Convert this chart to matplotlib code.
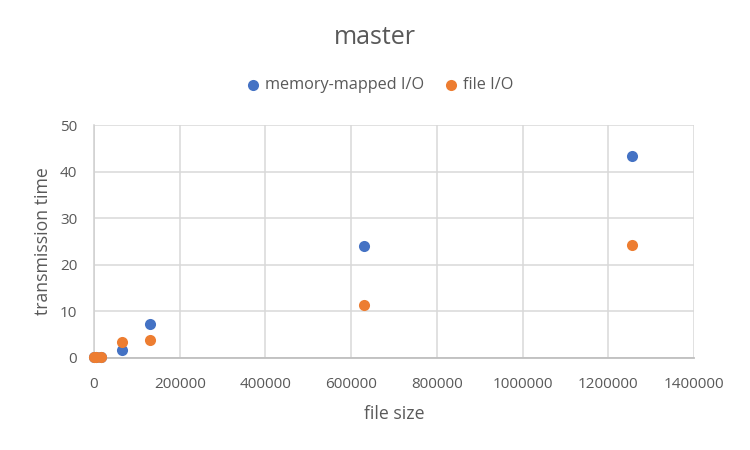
import matplotlib
matplotlib.use("Agg")
import matplotlib.pyplot as plt

plt.rcParams['font.family'] = ['Open Sans', 'DejaVu Sans']

file_size = [1024, 4096, 16384, 65536, 131072, 630000, 1255000]
mmap_time = [0.05, 0.08, 0.15, 1.6, 7.25, 24.1, 43.4]
fileio_time = [0.05, 0.1, 0.2, 3.45, 3.8, 11.4, 24.25]

xticks = [0, 200000, 400000, 600000, 800000, 1000000, 1200000, 1400000]
yticks = [0, 10, 20, 30, 40, 50]

text_color = '#595959'
fig = plt.figure(figsize=(7.5, 4.5), dpi=100)
ax = fig.add_axes([94/750, 1-357.7/450, (694-94)/750, (357.7-125.3)/450])

ax.scatter(file_size, mmap_time, s=64, color='#4472C4', label='memory-mapped I/O', zorder=3, linewidths=0, clip_on=False)
ax.scatter(file_size, fileio_time, s=64, color='#ED7D31', label='file I/O', zorder=3, linewidths=0, clip_on=False)

ax.set_xlim(0, 1400000)
ax.set_ylim(0, 50)
ax.set_xticks(xticks)
ax.set_xticklabels([str(v) for v in xticks])
ax.set_yticks(yticks)
ax.grid(True, color='#D9D9D9', linewidth=1.1)
ax.set_axisbelow(True)
for s in ['top', 'right']:
    ax.spines[s].set_visible(False)
ax.spines['left'].set_color('#D0D0D0')
ax.spines['left'].set_linewidth(1.1)
ax.spines['bottom'].set_color('#BFBFBF')
ax.spines['bottom'].set_linewidth(1.3)
ax.tick_params(axis='x', length=0, colors=text_color, labelsize=11, pad=14)
ax.tick_params(axis='y', length=0, colors=text_color, labelsize=11, pad=12)

ax.set_xlabel('file size', color=text_color, fontsize=12.7, labelpad=9)
ax.set_ylabel('transmission time', color=text_color, fontsize=12.7, labelpad=6)
fig.text(0.5, 1-37/450, 'master', ha='center', va='center', fontsize=18, color=text_color)
leg = fig.legend(loc='center', bbox_to_anchor=(0.5, 1-85/450), ncol=2, frameon=False,
                 fontsize=11.7, handletextpad=-0.25, columnspacing=0.6, markerscale=1.0)
for t in leg.get_texts():
    t.set_color(text_color)

fig.savefig('out.png', dpi=100)
